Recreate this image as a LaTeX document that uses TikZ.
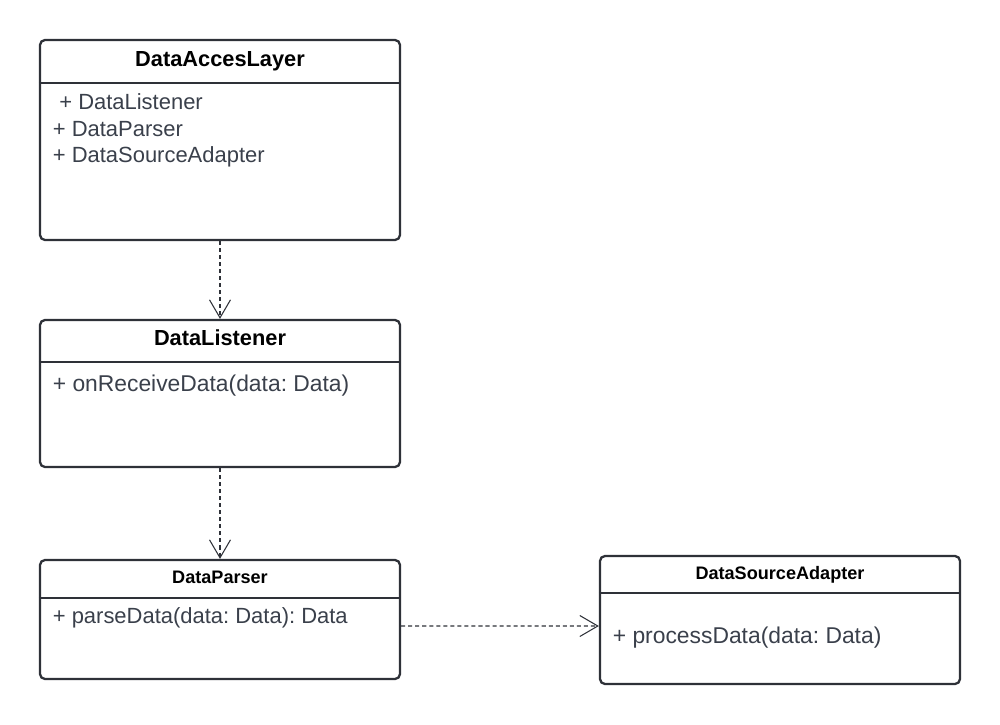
\documentclass[tikz,border=0pt]{standalone}
\usepackage{fontspec}
\setmainfont{Liberation Sans}
\usetikzlibrary{arrows.meta}
\definecolor{umlLine}{HTML}{2E3138}
\definecolor{umlText}{HTML}{3A404B}
\frenchspacing

\begin{document}
\begin{tikzpicture}
\tikzset{
    umlClass/.style={draw=umlLine,line width=1.3pt,rounded corners=1mm,inner sep=0pt,minimum width=7.2cm},
    umlRule/.style={umlLine,line width=1.3pt},
    umlTitle/.style={anchor=base,inner sep=0pt,font=\bfseries\fontsize{12.4}{15}\selectfont},
    umlSmallTitle/.style={umlTitle,font=\bfseries\fontsize{10.3}{12}\selectfont},
    umlMember/.style={anchor=base west,inner sep=0pt,text=umlText,font=\fontsize{12.5}{15}\selectfont},
    umlBigMember/.style={umlMember,font=\fontsize{13}{15}\selectfont},
    umlDep/.style={umlLine,line width=0.6pt,dash pattern=on 2.3pt off 1.7pt,-{Straight Barb[length=3.6mm,width=4.2mm]}}
}
\useasboundingbox (0,0) rectangle (20,-14.48);

% class boxes
\node[umlClass,minimum height=4cm]    (dal) at (4.4,-2.8)   {};
\node[umlClass,minimum height=2.94cm] (dl)  at (4.4,-7.87)  {};
\node[umlClass,minimum height=2.38cm] (dp)  at (4.4,-12.39) {};
\node[umlClass,minimum height=2.56cm] (dsa) at (15.6,-12.4) {};

% header rules
\draw[umlRule] (dal.west |- 0,-1.66)  -- (dal.east |- 0,-1.66);
\draw[umlRule] (dl.west |- 0,-7.24)   -- (dl.east |- 0,-7.24);
\draw[umlRule] (dp.west |- 0,-11.96)  -- (dp.east |- 0,-11.96);
\draw[umlRule] (dsa.west |- 0,-11.86) -- (dsa.east |- 0,-11.86);

% titles
\node[umlTitle]      (dalTitle) at (4.4,-1.32)   {DataAccesLayer};
\node[umlTitle]      (dlTitle)  at (4.4,-6.91)   {DataListener};
\node[umlSmallTitle] (dpTitle)  at (4.4,-11.67)  {DataParser};
\node[umlSmallTitle] (dsaTitle) at (15.6,-11.59) {DataSourceAdapter};

% members
\node[umlMember]    (dalA) at (1.18,-2.18)  {+ DataListener};
\node[umlMember]    (dalB) at (1.05,-2.72)  {+ DataParser};
\node[umlMember]    (dalC) at (1.05,-3.24)  {+ DataSourceAdapter};
\node[umlBigMember] (dlA)  at (1.05,-7.83)  {+ onReceiveData(data: Data)};
\node[umlMember]    (dpA)  at (1.05,-12.47) {+ parseData(data: Data): Data};
\node[umlBigMember] (dsaA) at (12.25,-12.87) {+ processData(data: Data)};

% dependencies
\draw[umlDep] (dal.south) -- (dl.north);
\draw[umlDep] (dl.south) -- (dp.north);
\draw[umlDep] ([yshift=-0.13cm]dp.east) -- ([yshift=-0.12cm]dsa.west);
\end{tikzpicture}
\end{document}
